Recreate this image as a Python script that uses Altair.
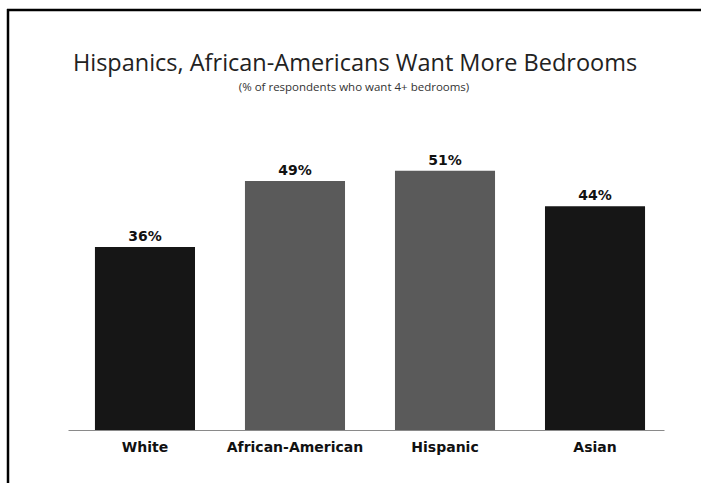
import altair as alt
import pandas as pd

categories = ["White", "African-American", "Hispanic", "Asian"]
values = [36, 49, 51, 44]
shades = ["dark", "grey", "grey", "dark"]
labels = ["36%", "49%", "51%", "44%"]
title_text = "Hispanics, African-Americans Want More Bedrooms"
subtitle_text = "(% of respondents who want 4+ bedrooms)"

df = pd.DataFrame({"group": categories, "pct": values, "shade": shades, "label": labels})

x = alt.X("group:N", sort=categories, title=None,
          scale=alt.Scale(paddingInner=0.333, paddingOuter=0.153, align=0.587),
          axis=alt.Axis(labelAngle=0, ticks=False, labelPadding=10, domainColor="#8a8a8a",
                        domainWidth=1, labelFont="DejaVu Sans", labelFontWeight="bold",
                        labelFontSize=14, labelColor="#111111"))
y = alt.Y("pct:Q", scale=alt.Scale(domain=[0, 60]), axis=None)

bars = alt.Chart(df).mark_bar().encode(
    x=x, y=y,
    color=alt.Color("shade:N", scale=alt.Scale(domain=["dark", "grey"], range=["#161616", "#5a5a5a"]), legend=None),
)

text = alt.Chart(df).mark_text(baseline="alphabetic", dy=-6, font="DejaVu Sans", fontWeight="bold",
                               fontSize=14, color="#111111").encode(
    x=alt.X("group:N", sort=categories), y=y, text="label:N")

one = pd.DataFrame({"title": [title_text], "subtitle": [subtitle_text]})

border_top = alt.Chart(one).mark_rule(stroke="#000000", strokeWidth=2.5).encode(
    x=alt.value(-61), x2=alt.value(640), y=alt.value(-115))
border_left = alt.Chart(one).mark_rule(stroke="#000000", strokeWidth=2.5).encode(
    x=alt.value(-60), y=alt.value(-116), y2=alt.value(370))

title = alt.Chart(one).mark_text(font="Open Sans", fontSize=23.5, color="#222222",
                                 baseline="alphabetic", align="center").encode(
    x=alt.value(287), y=alt.value(-54), text="title:N")

subtitle = alt.Chart(one).mark_text(font="Open Sans", fontSize=11.5, color="#333333",
                                    baseline="alphabetic", align="center").encode(
    x=alt.value(286), y=alt.value(-34), text="subtitle:N")

chart = alt.layer(bars, text, border_top, border_left, title, subtitle).properties(
    width=596, height=305,
    autosize=alt.AutoSizeParams(type="none"),
    padding={"left": 68, "top": 125, "right": 37, "bottom": 53},
).configure(background="white").configure_view(stroke="transparent")

chart.save("out.html", embed_options={"renderer": "svg", "actions": False})
